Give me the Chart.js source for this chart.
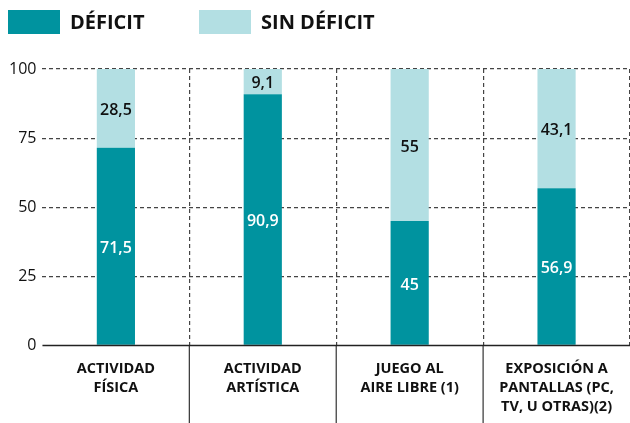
<!DOCTYPE html>
<html><head><meta charset="utf-8">
<script src="https://cdn.jsdelivr.net/npm/chart.js@4"></script>
<style>html,body{margin:0;padding:0;background:#fff}</style>
</head><body>
<canvas id="c" width="630" height="423"></canvas>
<script>
const categories = [["ACTIVIDAD","FÍSICA"],["ACTIVIDAD","ARTÍSTICA"],["JUEGO AL","AIRE LIBRE (1)"],["EXPOSICIÓN A","PANTALLAS (PC,","TV, U OTRAS)(2)"]];
const deficit = [71.5, 90.9, 45, 56.9];
const sinDeficit = [28.5, 9.1, 55, 43.1];
const yTicks = [0, 25, 50, 75, 100];
const seriesNames = ["DÉFICIT", "SIN DÉFICIT"];
const seriesColors = ["#00939F", "#B3DFE3"];
const labelColors = ["#ffffff", "#111111"];

const FONT = '"Open Sans", "Noto Sans", sans-serif';
const fmt = v => String(v).replace('.', ',');

const legendPlugin = {
  id: 'customLegend',
  afterDraw(chart) {
    const ctx = chart.ctx;
    const xs = [8, 199];
    ctx.save();
    chart.data.datasets.forEach((ds, i) => {
      ctx.fillStyle = ds.backgroundColor;
      ctx.fillRect(xs[i], 10, 52, 24);
      ctx.fillStyle = '#111';
      ctx.font = 'bold 20px ' + FONT;
      ctx.textBaseline = 'middle';
      ctx.textAlign = 'left';
      ctx.fillText(ds.label, xs[i] + 62, 23);
    });
    ctx.restore();
  }
};

const valueLabels = {
  id: 'valueLabels',
  afterDatasetsDraw(chart) {
    const ctx = chart.ctx;
    ctx.save();
    ctx.font = '600 16px ' + FONT;
    ctx.textAlign = 'center';
    ctx.textBaseline = 'middle';
    chart.data.datasets.forEach((ds, di) => {
      const meta = chart.getDatasetMeta(di);
      meta.data.forEach((bar, i) => {
        const p = bar.getProps(['x', 'y', 'base'], true);
        ctx.fillStyle = labelColors[di];
        ctx.fillText(fmt(ds.data[i]), p.x, (p.y + p.base) / 2 + 2);
      });
    });
    ctx.restore();
  }
};

const lowerDividers = {
  id: 'lowerDividers',
  afterDraw(chart) {
    const xs = chart.scales.x;
    const ctx = chart.ctx;
    const area = chart.chartArea;
    ctx.save();
    ctx.strokeStyle = '#333';
    ctx.lineWidth = 1.2;
    for (let i = 1; i < categories.length; i++) {
      const x = (xs.getPixelForTick(i - 1) + xs.getPixelForTick(i)) / 2;
      ctx.beginPath();
      ctx.moveTo(x, area.bottom);
      ctx.lineTo(x, chart.height);
      ctx.stroke();
    }
    ctx.strokeStyle = '#222';
    ctx.lineWidth = 1.5;
    ctx.beginPath();
    const yb = chart.scales.y.getPixelForValue(0);
    ctx.moveTo(area.left, yb);
    ctx.lineTo(area.right, yb);
    ctx.stroke();
    ctx.restore();
  }
};

new Chart(document.getElementById('c'), {
  type: 'bar',
  data: {
    labels: categories,
    datasets: [
      { label: seriesNames[0], data: deficit, backgroundColor: seriesColors[0], borderWidth: 0 },
      { label: seriesNames[1], data: sinDeficit, backgroundColor: seriesColors[1], borderWidth: 0 }
    ]
  },
  options: {
    responsive: false,
    devicePixelRatio: 1,
    animation: false,
    layout: { padding: { top: 69, left: 3, right: 0, bottom: -7 } },
    datasets: { bar: { categoryPercentage: 1, barPercentage: 0.26 } },
    plugins: { legend: { display: false }, tooltip: { enabled: false } },
    scales: {
      x: {
        stacked: true,
        grid: {
          display: true,
          drawTicks: false,
          tickLength: 0,
          color: c => (c.index === 0 || c.index >= categories.length) ? 'rgba(0,0,0,0)' : '#444',
          lineWidth: 1.2
        },
        border: { display: false, dash: [4, 3] },
        ticks: {
          color: '#111',
          font: { family: FONT, size: 14.5, weight: 'bold', lineHeight: 1.3 },
          padding: 14,
          maxRotation: 0,
          autoSkip: false
        }
      },
      y: {
        stacked: true,
        min: 0,
        max: 100,
        afterBuildTicks: s => { s.ticks = yTicks.map(v => ({ value: v })); },
        grid: {
          drawTicks: false,
          tickLength: 0,
          color: c => c.tick && c.tick.value === 0 ? 'rgba(0,0,0,0)' : '#444',
          lineWidth: 1.2
        },
        border: { display: false, dash: [4, 3] },
        ticks: {
          color: '#111',
          font: { family: FONT, size: 16 },
          padding: 6
        }
      }
    }
  },
  plugins: [legendPlugin, valueLabels, lowerDividers]
});
</script>
</body></html>
